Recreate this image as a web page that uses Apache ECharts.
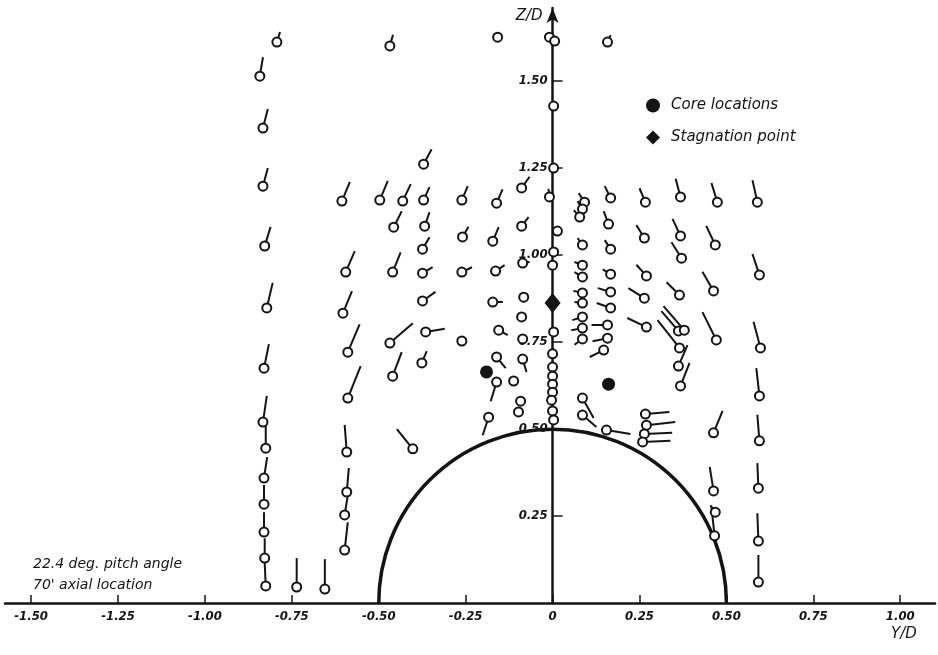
<!DOCTYPE html>
<html>
<head>
<meta charset="utf-8">
<script src="https://cdn.jsdelivr.net/npm/echarts/dist/echarts.min.js"></script>
<style>
html, body { margin: 0; padding: 0; background: #fff; }
#main { width: 938px; height: 655px; }
</style>
</head>
<body>
<div id="main"></div>
<script>
// probe points: [Y/D, Z/D, tail dY, tail dZ]
const outerLeft = [
	[-0.842, 1.514, 0.009, 0.055],
	[-0.833, 1.365, 0.014, 0.055],
	[-0.833, 1.198, 0.014, 0.052],
	[-0.828, 1.026, 0.017, 0.055],
	[-0.822, 0.848, 0.017, 0.072],
	[-0.830, 0.675, 0.014, 0.069],
	[-0.833, 0.520, 0.011, 0.075],
	[-0.825, 0.445, 0, 0.066],
	[-0.830, 0.359, 0.009, 0.060],
	[-0.830, 0.284, 0, 0.055],
	[-0.830, 0.204, 0, 0.057],
	[-0.828, 0.129, 0, 0.057],
	[-0.825, 0.049, -0.003, 0.066],
	[-0.736, 0.046, 0, 0.083],
	[-0.655, 0.040, 0, 0.086]
]
const topRow = [
	[-0.793, 1.612, 0.009, 0.029],
	[-0.468, 1.601, 0.009, 0.032],
	[-0.158, 1.626, 0, 0],
	[-0.009, 1.626, 0, 0],
	[0.006, 1.615, 0, 0],
	[0.158, 1.612, 0.009, 0.02]
]
const colA = [
	[-0.606, 1.155, 0.023, 0.055],
	[-0.595, 0.951, 0.026, 0.060],
	[-0.603, 0.833, 0.026, 0.063],
	[-0.589, 0.721, 0.034, 0.080],
	[-0.589, 0.589, 0.037, 0.092],
	[-0.592, 0.434, -0.006, 0.078],
	[-0.592, 0.319, 0.006, 0.069],
	[-0.598, 0.253, 0.009, 0.057],
	[-0.598, 0.152, 0.009, 0.080]
]
const colB = [
	[-0.497, 1.158, 0.023, 0.055],
	[-0.431, 1.155, 0.023, 0.049],
	[-0.457, 1.080, 0.023, 0.046],
	[-0.460, 0.951, 0.023, 0.057],
	[-0.468, 0.747, 0.066, 0.057],
	[-0.460, 0.652, 0.026, 0.069],
	[-0.402, 0.443, -0.046, 0.057]
]
const colC = [
	[-0.371, 1.261, 0.023, 0.043],
	[-0.371, 1.158, 0.017, 0.037],
	[-0.368, 1.083, 0.014, 0.040],
	[-0.374, 1.017, 0.020, 0.034],
	[-0.374, 0.948, 0.029, 0.017],
	[-0.374, 0.868, 0.037, 0.026],
	[-0.365, 0.779, 0.055, 0.009],
	[-0.376, 0.690, 0.014, 0.034]
]
const colD = [
	[-0.261, 1.158, 0.017, 0.040],
	[-0.259, 1.052, 0.017, 0.029],
	[-0.261, 0.951, 0.029, 0.014],
	[-0.261, 0.753, 0, 0]
]
const colE = [
	[-0.161, 1.149, 0.017, 0.040],
	[-0.172, 1.040, 0.017, 0.040],
	[-0.164, 0.954, 0.026, 0.017],
	[-0.172, 0.865, 0.029, 0],
	[-0.155, 0.784, 0.026, -0.014],
	[-0.161, 0.707, 0.026, -0.032],
	[-0.161, 0.635, -0.017, -0.055],
	[-0.184, 0.534, -0.017, -0.052]
]
const colF = [
	[-0.089, 1.193, 0.023, 0.032],
	[-0.089, 1.083, 0.020, 0.026],
	[-0.086, 0.977, 0.020, 0.003],
	[-0.083, 0.879, 0, 0],
	[-0.089, 0.822, 0, 0],
	[-0.086, 0.759, 0.011, -0.009],
	[-0.086, 0.701, 0.011, -0.037],
	[-0.112, 0.638, 0, 0],
	[-0.092, 0.580, 0, 0],
	[-0.098, 0.549, 0, 0]
]
const colAxis = [
	[0.003, 1.428, 0, 0],
	[0.003, 1.250, 0, 0],
	[-0.009, 1.167, -0.003, 0.023],
	[0.014, 1.069, 0, 0],
	[0.003, 1.009, 0, 0],
	[0, 0.971, 0, 0],
	[0.003, 0.779, 0, 0],
	[0, 0.716, 0, 0],
	[0, 0.678, 0, 0],
	[0, 0.652, 0, 0],
	[0, 0.629, 0, 0],
	[0, 0.606, 0, 0],
	[-0.003, 0.583, 0, 0],
	[0, 0.552, 0, 0],
	[0.003, 0.526, 0, 0]
]
const colG = [
	[0.092, 1.152, -0.017, 0.026],
	[0.086, 1.132, -0.014, 0.023],
	[0.078, 1.109, -0.017, 0.020],
	[0.086, 1.029, -0.014, 0.020],
	[0.086, 0.971, -0.023, 0.009],
	[0.086, 0.937, -0.023, 0.014],
	[0.086, 0.891, -0.026, 0.006],
	[0.086, 0.862, -0.023, 0.003],
	[0.086, 0.822, -0.029, -0.009],
	[0.086, 0.790, -0.032, -0.006],
	[0.086, 0.759, -0.023, -0.017],
	[0.086, 0.589, 0.032, -0.057],
	[0.086, 0.540, 0.040, -0.034]
]
const colH = [
	[0.167, 1.164, -0.017, 0.034],
	[0.161, 1.089, -0.014, 0.037],
	[0.167, 1.017, -0.017, 0.026],
	[0.167, 0.945, -0.023, 0.014],
	[0.167, 0.894, -0.037, 0.011],
	[0.167, 0.848, -0.040, 0.014],
	[0.158, 0.799, -0.046, 0],
	[0.158, 0.761, -0.043, -0.009],
	[0.147, 0.727, -0.040, -0.020],
	[0.155, 0.497, 0.069, -0.011]
]
const colI = [
	[0.267, 1.152, -0.017, 0.040],
	[0.264, 1.049, -0.023, 0.037],
	[0.270, 0.940, -0.029, 0.032],
	[0.264, 0.876, -0.046, 0.029],
	[0.270, 0.793, -0.055, 0.026],
	[0.267, 0.543, 0.069, 0.006],
	[0.270, 0.511, 0.083, 0.009],
	[0.264, 0.486, 0.080, 0.003],
	[0.259, 0.463, 0.080, 0.003]
]
const colJ = [
	[0.368, 1.167, -0.014, 0.052],
	[0.368, 1.055, -0.023, 0.049],
	[0.371, 0.991, -0.029, 0.046],
	[0.365, 0.885, -0.037, 0.037],
	[0.362, 0.782, -0.049, 0.057],
	[0.379, 0.784, -0.060, 0.069],
	[0.365, 0.733, -0.063, 0.080],
	[0.362, 0.681, 0.026, 0.060],
	[0.368, 0.624, 0.026, 0.066]
]
const colK = [
	[0.474, 1.152, -0.017, 0.055],
	[0.468, 1.029, -0.026, 0.055],
	[0.463, 0.897, -0.032, 0.055],
	[0.471, 0.756, -0.040, 0.080],
	[0.463, 0.489, 0.026, 0.063],
	[0.463, 0.322, -0.011, 0.069],
	[0.468, 0.261, -0.014, 0.020],
	[0.466, 0.193, -0.009, 0.083]
]
const colL = [
	[0.589, 1.152, -0.014, 0.063],
	[0.595, 0.943, -0.020, 0.060],
	[0.598, 0.733, -0.020, 0.075],
	[0.595, 0.595, -0.009, 0.080],
	[0.595, 0.466, -0.006, 0.075],
	[0.592, 0.330, -0.003, 0.072],
	[0.592, 0.178, -0.003, 0.080],
	[0.592, 0.060, 0, 0.078]
]
const coreLocations = [[-0.190, 0.664], [0.161, 0.629]]
const stagnationPoint = [[0, 0.862]]
const bodyRadius = 0.5
const xTicks = [-1.5, -1.25, -1, -0.75, -0.5, -0.25, 0, 0.25, 0.5, 0.75, 1]
const yTicks = [0.25, 0.5, 0.75, 1, 1.25, 1.5]

const probes = [].concat(outerLeft, topRow, colA, colB, colC, colD, colE, colF, colAxis, colG, colH, colI, colJ, colK, colL)

const ink = '#141414'
const labelFont = "'Liberation Sans Narrow','DejaVu Sans Condensed','DejaVu Sans',sans-serif"
const textFont = "'DejaVu Sans',sans-serif"

// grid box and axis ranges
const W = 938, gridL = 5, gridR = 3
const xMin = -1.575, xMax = 1.1
// y axis sits on Y/D = 0, pulled in from the grid's left edge
const yAxisOffset = -((0 - xMin) / (xMax - xMin)) * (W - gridL - gridR)

const chart = echarts.init(document.getElementById('main'))
chart.setOption({
	backgroundColor: '#fff',
	animation: false,
	grid: { left: gridL, right: gridR, top: 8, bottom: 52, containLabel: false, outerBoundsMode: 'none' },
	title: {
		text: '22.4 deg. pitch angle\n70\' axial location',
		left: 28, top: 549,
		textStyle: { fontFamily: textFont, fontStyle: 'italic', fontWeight: 'normal', fontSize: 14, lineHeight: 21, color: ink }
	},
	legend: {
		data: ['Core locations', 'Stagnation point'],
		orient: 'vertical', left: 641, top: 93,
		itemWidth: 14, itemHeight: 14, itemGap: 17,
		textStyle: { fontFamily: textFont, fontStyle: 'italic', fontSize: 15, color: ink, padding: [0, 0, 0, 6] }
	},
	xAxis: {
		type: 'value', min: xMin, max: xMax,
		name: 'Y/D', nameLocation: 'end', nameGap: -44,
		nameTextStyle: { fontFamily: textFont, fontStyle: 'italic', fontSize: 15, color: ink, verticalAlign: 'top', padding: [24, 0, 0, 0] },
		splitLine: { show: false },
		axisLine: { lineStyle: { color: ink, width: 2.5 } },
		axisTick: { inside: true, length: 8, customValues: xTicks, lineStyle: { color: ink, width: 1.5 } },
		axisLabel: {
			customValues: xTicks, margin: 7,
			fontFamily: labelFont, fontStyle: 'italic', fontWeight: 'bold', fontSize: 13, color: ink,
			formatter: v => v === 0 ? '0' : v.toFixed(2)
		}
	},
	yAxis: {
		type: 'value', min: 0, max: 1.71,
		position: 'left', offset: yAxisOffset,
		name: 'Z/D', nameLocation: 'end', nameGap: -16,
		nameTextStyle: { fontFamily: textFont, fontStyle: 'italic', fontSize: 15, color: ink, align: 'right', padding: [0, 10, 0, 0] },
		splitLine: { show: false },
		axisLine: { onZero: false, symbol: ['none', 'arrow'], symbolSize: [9, 15], lineStyle: { color: ink, width: 2.5 } },
		axisTick: { inside: true, length: 10, customValues: yTicks, lineStyle: { color: ink, width: 1.5 } },
		axisLabel: {
			customValues: yTicks, margin: 5,
			fontFamily: labelFont, fontStyle: 'italic', fontWeight: 'bold', fontSize: 13, color: ink,
			formatter: v => v.toFixed(2)
		}
	},
	series: [{
		// body contour
		type: 'custom', silent: true,
		data: [[0, 0, bodyRadius]],
		renderItem: (params, api) => {
			const c = api.coord([api.value(0), api.value(1)])
			const r = api.size([api.value(2), 0])[0]
			return {
				type: 'arc',
				shape: { cx: c[0], cy: c[1], r: r, startAngle: Math.PI, endAngle: 2 * Math.PI },
				style: { stroke: ink, lineWidth: 3.5, fill: null }
			}
		}
	}, {
		// probe tails
		type: 'custom', silent: true, z: 3,
		data: probes,
		renderItem: (params, api) => {
			const p0 = api.coord([api.value(0), api.value(1)])
			const p1 = api.coord([api.value(0) + api.value(2), api.value(1) + api.value(3)])
			return {
				type: 'line',
				shape: { x1: p0[0], y1: p0[1], x2: p1[0], y2: p1[1] },
				style: { stroke: ink, lineWidth: 2 }
			}
		}
	}, {
		// probe heads
		type: 'scatter', z: 4, silent: true,
		data: probes,
		symbol: 'circle', symbolSize: 9,
		itemStyle: { color: '#fff', borderColor: ink, borderWidth: 2, opacity: 1 }
	}, {
		name: 'Core locations',
		type: 'scatter', z: 5,
		data: coreLocations,
		symbol: 'circle', symbolSize: 13,
		itemStyle: { color: ink, opacity: 1 }
	}, {
		name: 'Stagnation point',
		type: 'scatter', z: 5,
		data: stagnationPoint,
		symbol: 'diamond', symbolSize: [16, 20],
		itemStyle: { color: ink, opacity: 1 }
	}]
})
</script>
</body>
</html>
